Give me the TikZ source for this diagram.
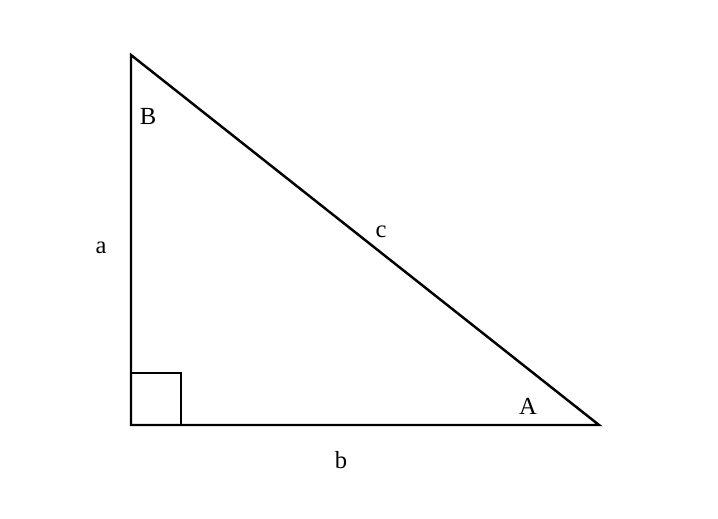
\documentclass[tikz,border=0pt]{standalone}
\usepackage{fontspec}
\setmainfont{Liberation Serif}

\tikzset{
  side/.style={line width=1.4pt, line join=miter},
  lbl/.style={anchor=center, font=\fontsize{14}{16}\selectfont}
}

\begin{document}
\begin{tikzpicture}[x=0.02cm, y=-0.02cm]
      \useasboundingbox (0,0) rectangle (718,519);
      \coordinate (tB) at (131, 55);
      \coordinate (tC) at (131, 425);
      \coordinate (tA) at (599, 425);
      \draw[side] (tB) -- (tC) -- (tA) -- cycle;
      \draw[side] (131, 373) -| (181, 425);
      \node[lbl] (lB) at (148, 116) {B};
      \node[lbl] (la) at (101, 248) {a};
      \node[lbl] (lc) at (381, 232) {c};
      \node[lbl] (lA) at (528, 406) {A};
      \node[lbl] (lb) at (341, 460) {b};
    \end{tikzpicture}
\end{document}
